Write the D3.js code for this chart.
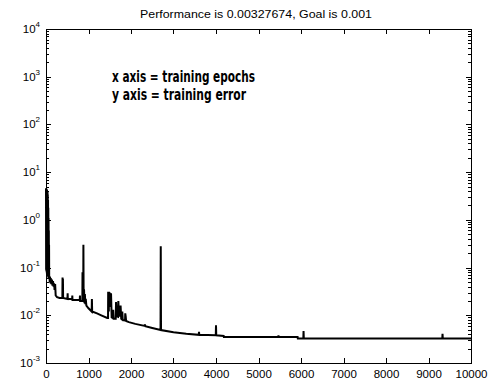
<!DOCTYPE html>
<html>
<head>
<meta charset="utf-8">
<script src="https://cdn.jsdelivr.net/npm/d3@7"></script>
<style>
  body { margin: 0; background: #fff; }
  svg { display: block; }
</style>
</head>
<body>
<svg width="492" height="381"></svg>
<script>

// datos: [epoca, error de entrenamiento]
let perf = [
  [0, 4.6], [3, 0.09], [6, 4.4], [9, 0.085], [12, 4.5], [15, 0.08], [18, 4.2], [21, 0.075],
  [24, 4.3], [27, 0.072], [30, 3.9], [33, 0.07], [36, 4.0], [39, 0.068], [42, 3.4],
  [45, 0.066], [48, 2.6], [51, 0.064], [54, 1.8], [57, 0.062], [60, 1.1], [63, 0.06],
  [66, 0.6], [69, 0.062], [72, 0.3], [75, 0.06],
  [80, 0.066], [88, 0.05], [95, 0.064], [103, 0.047], [112, 0.06], [125, 0.045],
  [140, 0.056], [152, 0.042], [165, 0.052], [178, 0.04], [190, 0.047], [202, 0.034],
  [215, 0.045], [228, 0.026], [260, 0.024], [320, 0.023],
  [385, 0.023], [389, 0.062], [394, 0.03], [398, 0.058], [403, 0.023],
  [505, 0.022], [509, 0.029], [513, 0.022],
  [615, 0.022], [619, 0.026], [623, 0.021],
  [795, 0.021], [799, 0.026], [803, 0.020],
  [855, 0.020], [859, 0.08], [864, 0.02], [876, 0.02], [880, 0.30], [885, 0.03],
  [895, 0.035], [905, 0.018], [915, 0.028], [925, 0.017], [935, 0.022], [950, 0.016],
  [1000, 0.014], [1075, 0.012], [1080, 0.022], [1086, 0.012],
  [1200, 0.011], [1300, 0.010], [1440, 0.0088], [1460, 0.0088], [1463, 0.031],
  [1478, 0.012], [1482, 0.031], [1495, 0.015], [1500, 0.03], [1520, 0.018],
  [1530, 0.029], [1545, 0.009], [1575, 0.0087], [1580, 0.013], [1590, 0.0085],
  [1640, 0.0085], [1648, 0.019], [1665, 0.0095], [1695, 0.0093], [1702, 0.020],
  [1715, 0.011], [1740, 0.0095], [1755, 0.016], [1770, 0.0085], [1790, 0.0082],
  [1795, 0.012], [1805, 0.008], [1860, 0.0078], [1865, 0.011], [1875, 0.0095],
  [1885, 0.0076], [1950, 0.0072], [2100, 0.0066], [2320, 0.006], [2328, 0.0064],
  [2336, 0.0059], [2500, 0.0054], [2695, 0.0049], [2700, 0.28], [2706, 0.0049],
  [3000, 0.0044], [3300, 0.0041], [3595, 0.0039], [3600, 0.0045], [3606, 0.0039],
  [3995, 0.0038], [4000, 0.0062], [4006, 0.0038], [4180, 0.0037], [4185, 0.0035],
  [5465, 0.0035], [5470, 0.0038], [5476, 0.0035], [5920, 0.0035], [5925, 0.00328],
  [6055, 0.00328], [6060, 0.0047], [6066, 0.00328], [9325, 0.00328], [9330, 0.0041],
  [9336, 0.00328], [10000, 0.00328]
];

let xTicks = [0, 1000, 2000, 3000, 4000, 5000, 6000, 7000, 8000, 9000, 10000];
let yExps = [-3, -2, -1, 0, 1, 2, 3, 4];
let titulo = "Performance is 0.00327674, Goal is 0.001";
let notas = ["x axis = training epochs", "y axis = training error"];

let svg = d3.select('svg');

let x = d3.scaleLinear()
    .domain([0, 10000])
    .range([46, 471]);

let y = d3.scaleLog()
    .domain([1e-3, 1e4])
    .range([363, 29]);

// ticks menores del eje log (2..9 por decada)
let minors = [];
yExps.slice(0, -1).forEach(e => {
    for (let m = 2; m <= 9; m++) minors.push(m * Math.pow(10, e));
});

let ejes = svg.append('g')
    .attr('stroke', '#000')
    .attr('stroke-width', 1)
    .attr('shape-rendering', 'crispEdges');

// marco
ejes.append('rect')
    .attr('x', x(0) + 0.5)
    .attr('y', y(1e4) + 0.5)
    .attr('width', x(10000) - x(0))
    .attr('height', y(1e-3) - y(1e4))
    .attr('fill', 'none');

// ticks de x (abajo y arriba)
ejes.selectAll('.xb')
    .data(xTicks.slice(1, -1))
    .enter().append('line')
    .attr('x1', d => Math.round(x(d)) + 0.5)
    .attr('x2', d => Math.round(x(d)) + 0.5)
    .attr('y1', y(1e-3))
    .attr('y2', y(1e-3) - 5);

ejes.selectAll('.xt')
    .data(xTicks.slice(1, -1))
    .enter().append('line')
    .attr('x1', d => Math.round(x(d)) + 0.5)
    .attr('x2', d => Math.round(x(d)) + 0.5)
    .attr('y1', y(1e4))
    .attr('y2', y(1e4) + 5);

// ticks de y, ambos lados
[[x(0), 1], [x(10000), -1]].forEach(([x0, s]) => {
    ejes.append('g').selectAll('line')
        .data(yExps.slice(1, -1))
        .enter().append('line')
        .attr('x1', x0)
        .attr('x2', x0 + s * 5)
        .attr('y1', d => Math.round(y(Math.pow(10, d))) + 0.5)
        .attr('y2', d => Math.round(y(Math.pow(10, d))) + 0.5);
    ejes.append('g').selectAll('line')
        .data(minors)
        .enter().append('line')
        .attr('x1', x0)
        .attr('x2', x0 + s * 3)
        .attr('y1', d => Math.round(y(d)) + 0.5)
        .attr('y2', d => Math.round(y(d)) + 0.5);
});

// etiquetas x
svg.append('g').selectAll('text')
    .data(xTicks)
    .enter().append('text')
    .attr('x', d => x(d) + 0.5)
    .attr('y', 377.5)
    .attr('text-anchor', 'middle')
    .style('font-family', '"Liberation Sans", Arial, sans-serif')
    .style('font-size', '11.5px')
    .text(d => d);

// etiquetas y: 10^n
let yl = svg.append('g').selectAll('text')
    .data(yExps)
    .enter().append('text')
    .attr('x', 40)
    .attr('y', d => y(Math.pow(10, d)) + 4)
    .attr('text-anchor', 'end')
    .style('font-family', '"Liberation Sans", Arial, sans-serif')
    .style('font-size', '11.5px');
yl.append('tspan').text('10');
yl.append('tspan')
    .attr('dy', -6)
    .style('font-size', '8px')
    .text(d => d);

// titulo
svg.append('text')
    .attr('x', 256)
    .attr('y', 18)
    .attr('text-anchor', 'middle')
    .style('font-family', '"Liberation Sans", Arial, sans-serif')
    .style('font-size', '11px')
    .attr('textLength', 232)
    .attr('lengthAdjust', 'spacingAndGlyphs')
    .text(titulo);

// notas dentro del grafico
svg.append('g').selectAll('text')
    .data(notas)
    .enter().append('text')
    .attr('x', 112)
    .attr('y', (d, i) => 81.5 + i * 18.5)
    .attr('textLength', (d, i) => i == 0 ? 143 : 134)
    .attr('lengthAdjust', 'spacingAndGlyphs')
    .style('font-family', '"DejaVu Sans Condensed", "DejaVu Sans", sans-serif')
    .style('font-stretch', 'condensed')
    .style('font-weight', 'bold')
    .style('font-size', '15.5px')
    .text(d => d);

// curva de error
let line = d3.line()
    .x(d => x(d[0]))
    .y(d => y(d[1]));

svg.append('path')
    .datum(perf)
    .attr('d', line)
    .attr('fill', 'none')
    .attr('stroke', '#000')
    .attr('stroke-width', 2)
    .attr('stroke-linejoin', 'miter');

</script>
</body>
</html>
